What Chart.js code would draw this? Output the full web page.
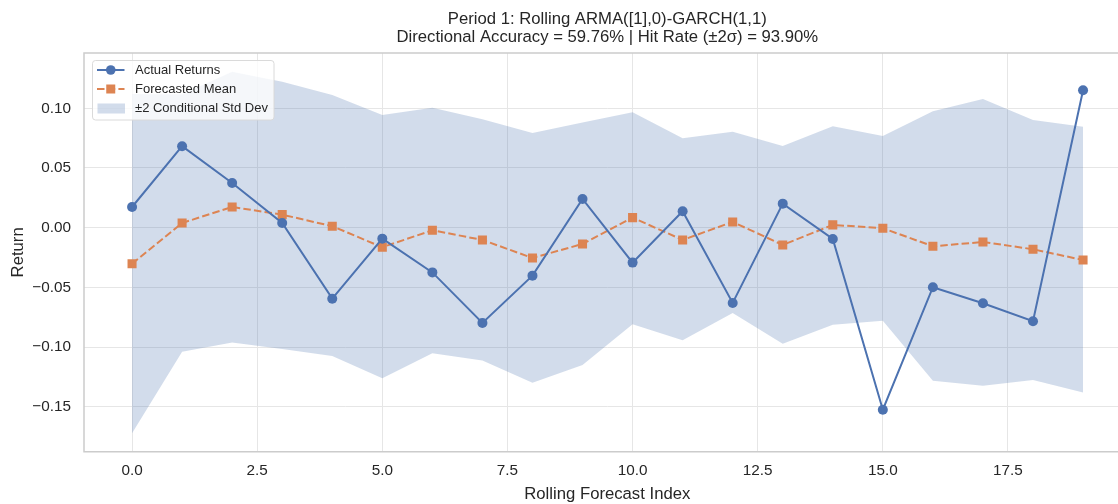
<!DOCTYPE html>
<html>
<head>
<meta charset="utf-8">
<script src="https://cdn.jsdelivr.net/npm/chart.js@4.4.1/dist/chart.umd.min.js"></script>
<style>
  html, body { margin: 0; padding: 0; background: #ffffff; overflow: hidden; width: 1118px; height: 504px; }
  canvas { display: block; }
</style>
</head>
<body>
<canvas id="c" width="1137" height="504"></canvas>
<script>
// ---- data ----
const forecastIndex = [0, 1, 2, 3, 4, 5, 6, 7, 8, 9, 10, 11, 12, 13, 14, 15, 16, 17, 18, 19];
const actualReturns = [0.0173, 0.0682, 0.0374, 0.0039, -0.0595, -0.0092, -0.0375, -0.0798, -0.0402, 0.0240,
                       -0.0293, 0.0137, -0.0631, 0.0201, -0.0095, -0.1525, -0.0499, -0.0633, -0.0784, 0.1151];
const forecastMean  = [-0.0302, 0.0039, 0.0173, 0.0109, 0.0012, -0.0164, -0.0022, -0.0103, -0.0254, -0.0137,
                       0.0084, -0.0103, 0.0048, -0.0145, 0.0023, -0.0005, -0.0156, -0.0120, -0.0181, -0.0271];
const bandUpper     = [0.1119, 0.1117, 0.1307, 0.1223, 0.1112, 0.0944, 0.1005, 0.0908, 0.0793, 0.0880,
                       0.0967, 0.0749, 0.0804, 0.0684, 0.0850, 0.0768, 0.0975, 0.1078, 0.0902, 0.0846];
const bandLower     = [-0.1723, -0.1039, -0.0963, -0.1016, -0.1075, -0.1262, -0.1052, -0.1114, -0.1299, -0.1150,
                       -0.0809, -0.0943, -0.0715, -0.0972, -0.0813, -0.0779, -0.1282, -0.1324, -0.1276, -0.1382];
const xTicks = [0, 2.5, 5, 7.5, 10, 12.5, 15, 17.5];
const yTicks = [-0.15, -0.10, -0.05, 0.00, 0.05, 0.10];
const seriesLabels = ['Actual Returns', 'Forecasted Mean', '\u00b12 Conditional Std Dev'];
const titleLines = ['Period 1: Rolling ARMA([1],0)-GARCH(1,1)',
                    'Directional Accuracy = 59.76% | Hit Rate (\u00b12\u03c3) = 93.90%'];
const xTitle = 'Rolling Forecast Index';
const yTitle = 'Return';

// ---- styles ----
const FONT = "'Liberation Sans', Arial, 'DejaVu Sans', sans-serif";
const TEXT = '#262626';
const BLUE = '#4c72b0';
const ORANGE = '#dd8452';
const BAND = 'rgba(76,114,176,0.25)';
const GRID = '#e6e6e6';
const SPINE = '#cccccc';

Chart.defaults.font.family = FONT;
Chart.defaults.color = TEXT;

const pts = arr => forecastIndex.map((x, i) => ({ x: x, y: arr[i] }));

const fmtY = v => {
  const s = Math.abs(v).toFixed(2);
  return v < -1e-9 ? '\u2212' + s : s;
};

const framePlugin = {
  id: 'frame',
  afterDatasetsDraw(chart) {
    const { ctx, chartArea: a } = chart;
    ctx.save();
    ctx.strokeStyle = SPINE;
    ctx.lineWidth = 1.5;
    ctx.beginPath();
    ctx.moveTo(a.right, a.top);
    ctx.lineTo(a.left, a.top);
    ctx.lineTo(a.left, a.bottom);
    ctx.lineTo(a.right, a.bottom);
    ctx.stroke();
    ctx.restore();
  }
};

const legendPlugin = {
  id: 'innerLegend',
  afterDraw(chart) {
    const ctx = chart.ctx;
    const bx = 92.5, by = 60.5, bw = 181.5, bh = 59.5, r = 3;
    ctx.save();
    ctx.beginPath();
    ctx.moveTo(bx + r, by);
    ctx.lineTo(bx + bw - r, by);
    ctx.quadraticCurveTo(bx + bw, by, bx + bw, by + r);
    ctx.lineTo(bx + bw, by + bh - r);
    ctx.quadraticCurveTo(bx + bw, by + bh, bx + bw - r, by + bh);
    ctx.lineTo(bx + r, by + bh);
    ctx.quadraticCurveTo(bx, by + bh, bx, by + bh - r);
    ctx.lineTo(bx, by + r);
    ctx.quadraticCurveTo(bx, by, bx + r, by);
    ctx.closePath();
    ctx.fillStyle = 'rgba(255,255,255,0.8)';
    ctx.fill();
    ctx.strokeStyle = '#dadada';
    ctx.lineWidth = 1;
    ctx.stroke();

    const x0 = 97, x1 = 124.5, xm = (x0 + x1) / 2;
    const rows = [70, 89, 108.5];
    ctx.strokeStyle = BLUE; ctx.lineWidth = 2; ctx.setLineDash([]);
    ctx.beginPath(); ctx.moveTo(x0, rows[0]); ctx.lineTo(x1, rows[0]); ctx.stroke();
    ctx.fillStyle = BLUE;
    ctx.beginPath(); ctx.arc(xm, rows[0], 4.8, 0, Math.PI * 2); ctx.fill();
    ctx.strokeStyle = ORANGE; ctx.setLineDash([7.5, 3.2]);
    ctx.beginPath(); ctx.moveTo(x0, rows[1]); ctx.lineTo(x1, rows[1]); ctx.stroke();
    ctx.setLineDash([]);
    ctx.fillStyle = ORANGE;
    ctx.fillRect(xm - 4.5, rows[1] - 4.5, 9, 9);
    ctx.fillStyle = BAND;
    ctx.fillRect(x0 + 0.5, rows[2] - 5, x1 - x0, 10);

    ctx.fillStyle = TEXT;
    ctx.font = '13px ' + FONT;
    ctx.textBaseline = 'middle';
    ctx.textAlign = 'left';
    seriesLabels.forEach((t, i) => ctx.fillText(t, 135, rows[i]));
    ctx.restore();
  }
};

new Chart(document.getElementById('c'), {
  type: 'line',
  data: {
    datasets: [
      {
        label: seriesLabels[0],
        data: pts(actualReturns),
        borderColor: BLUE,
        backgroundColor: BLUE,
        borderWidth: 2,
        pointStyle: 'circle',
        pointRadius: 5,
        pointBorderWidth: 0,
        pointBackgroundColor: BLUE,
        fill: false,
        tension: 0
      },
      {
        label: seriesLabels[1],
        data: pts(forecastMean),
        borderColor: ORANGE,
        backgroundColor: ORANGE,
        borderWidth: 2,
        borderDash: [7.5, 3.2],
        pointStyle: 'rect',
        pointRadius: 6.4,
        pointBorderWidth: 0,
        pointBackgroundColor: ORANGE,
        fill: false,
        tension: 0
      },
      {
        label: seriesLabels[2],
        data: pts(bandUpper),
        borderWidth: 0,
        borderColor: 'rgba(0,0,0,0)',
        pointRadius: 0,
        backgroundColor: BAND,
        fill: '+1',
        tension: 0
      },
      {
        label: 'band lower',
        data: pts(bandLower),
        borderWidth: 0,
        borderColor: 'rgba(0,0,0,0)',
        pointRadius: 0,
        fill: false,
        tension: 0
      }
    ]
  },
  options: {
    responsive: false,
    animation: false,
    events: [],
    layout: { padding: { left: 0, right: 0, top: 0, bottom: 0 } },
    plugins: {
      legend: { display: false },
      tooltip: { enabled: false },
      title: {
        display: true,
        fullSize: false,
        text: titleLines,
        color: TEXT,
        font: { family: FONT, size: 16.7, weight: 'normal', lineHeight: 1.12 },
        padding: { top: 9.8, bottom: 5.8 }
      }
    },
    scales: {
      x: {
        type: 'linear',
        min: -0.96,
        max: 19.95,
        afterBuildTicks: s => { s.ticks = xTicks.map(v => ({ value: v })); },
        afterFit: s => { s.height = 52.3; },
        grid: { color: GRID, lineWidth: 1, drawTicks: false },
        border: { display: false },
        ticks: {
          padding: 10,
          color: TEXT,
          font: { family: FONT, size: 15.3 },
          autoSkip: false,
          maxRotation: 0,
          callback: v => Number(v).toFixed(1)
        },
        title: {
          display: true,
          text: xTitle,
          color: TEXT,
          font: { family: FONT, size: 16.7, lineHeight: 1.2 },
          padding: { top: 0, bottom: 0 }
        }
      },
      y: {
        type: 'linear',
        min: -0.1877,
        max: 0.1463,
        afterBuildTicks: s => { s.ticks = yTicks.map(v => ({ value: v })); },
        afterFit: s => { s.width = 84; },
        grid: { color: GRID, lineWidth: 1, drawTicks: false },
        border: { display: false },
        ticks: {
          padding: 13,
          color: TEXT,
          font: { family: FONT, size: 15.3 },
          callback: v => fmtY(v)
        },
        title: {
          display: true,
          text: yTitle,
          color: TEXT,
          font: { family: FONT, size: 16.7, lineHeight: 1.2 },
          padding: { top: 8, bottom: 0 }
        }
      }
    }
  },
  plugins: [framePlugin, legendPlugin]
});
</script>
</body>
</html>
